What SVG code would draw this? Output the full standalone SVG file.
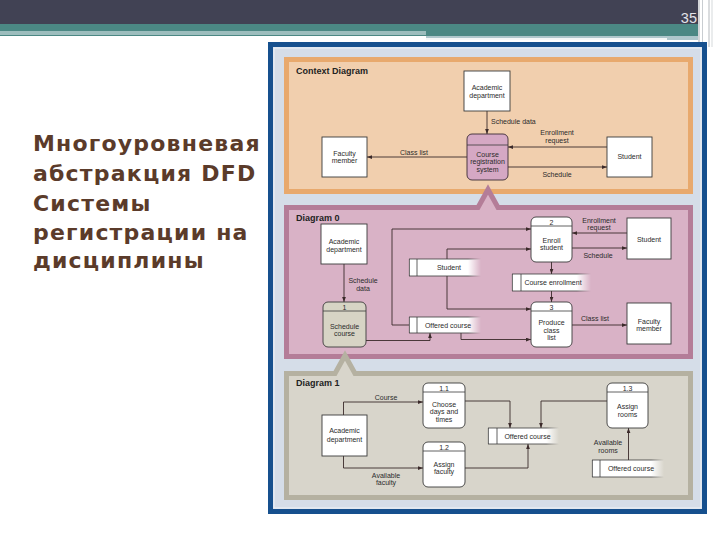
<svg xmlns="http://www.w3.org/2000/svg" width="720" height="540" viewBox="0 0 720 540">
<style>
.t{font-family:"Liberation Sans",Arial,sans-serif;font-size:7px;fill:#2b2b2b;text-anchor:middle}
.h{font-family:"Liberation Sans",Arial,sans-serif;font-size:9px;font-weight:bold;fill:#222}
.title{font-family:"DejaVu Sans",Verdana,sans-serif;font-size:22px;font-weight:bold;fill:#5b3b2a;letter-spacing:1.2px}
.box{fill:#fff;stroke:#3a3a3a;stroke-width:0.9}
.proc{fill:#fff;stroke:#3a3a3a;stroke-width:0.9}
.hl{stroke:#3a3a3a;stroke-width:0.8}
.ln{fill:none;stroke:#3b2a2a;stroke-width:0.9;marker-end:url(#ah)}
.sl{stroke:#3a3a3a;stroke-width:0.8}
</style>
<defs>
<marker id="ah" viewBox="0 0 8 6" refX="8" refY="3" markerWidth="5" markerHeight="4" markerUnits="userSpaceOnUse" orient="auto">
<path d="M0,0 L8,3 L0,6 Z" fill="#3b2a2a"/>
</marker>
<linearGradient id="ff" x1="0" y1="0" x2="1" y2="0">
<stop offset="0" stop-color="#fff" stop-opacity="1"/>
<stop offset="0.82" stop-color="#fff" stop-opacity="1"/>
<stop offset="1" stop-color="#fff" stop-opacity="0"/>
</linearGradient>
<linearGradient id="fl" x1="0" y1="0" x2="1" y2="0">
<stop offset="0" stop-color="#3a3a3a" stop-opacity="1"/>
<stop offset="0.82" stop-color="#3a3a3a" stop-opacity="1"/>
<stop offset="1" stop-color="#3a3a3a" stop-opacity="0"/>
</linearGradient>
</defs>

<rect width="720" height="540" fill="#ffffff"/>

<!-- top banner -->
<g id="banner">
<rect x="0" y="0" width="698" height="24" fill="#414254"/>
<rect x="0" y="24" width="698" height="12" fill="#4b8884"/>
<rect x="0" y="31" width="426" height="4" fill="#9cbdbd"/>
<rect x="426" y="36" width="272" height="4" fill="#aec7cc"/>
<rect x="426" y="38" width="241" height="2" fill="#f4f7f8"/>
<rect x="698.5" y="0" width="1" height="47" fill="#a9aeb3"/>
<rect x="702" y="0" width="1" height="47" fill="#c9cdd1"/>
<rect x="708.5" y="0" width="1" height="47" fill="#b5b9bd"/>
<rect x="711.5" y="0" width="1" height="47" fill="#d6d9dc"/>
<text x="697" y="23" font-family="'Liberation Sans',Arial,sans-serif" font-size="14.5" fill="#e2e3ea" text-anchor="end">35</text>
</g>

<!-- title -->
<g id="title">
<text class="title" x="33" y="151">Многоуровневая</text>
<text class="title" x="33" y="181">абстракция DFD</text>
<text class="title" x="33" y="211">Системы</text>
<text class="title" x="33" y="240">регистрации на</text>
<text class="title" x="33" y="268">дисциплины</text>
</g>

<!-- frame -->
<g id="frame">
<rect x="270.5" y="44.5" width="434" height="467" fill="#d5dde8" stroke="#16508e" stroke-width="5"/>
<rect x="274" y="48" width="427" height="460" fill="none" stroke="#eef2f7" stroke-width="1"/>
</g>

<!-- panels -->
<g id="panel-context">
<rect x="286.5" y="59.5" width="404" height="132" fill="#f1cfae" stroke="#e8a96d" stroke-width="5"/>
<text class="h" x="296" y="74">Context Diagram</text>
</g>
<g id="panel-d0">
<path d="M286.5,207.5 H478 L488,189.5 L498,207.5 H690.5 V356.5 H286.5 Z" fill="#d9b2c6" stroke="#b47d98" stroke-width="5" stroke-linejoin="miter"/>
<text class="h" x="296" y="221">Diagram 0</text>
</g>
<g id="panel-d1">
<path d="M286.5,373.5 H335 L345,355.5 L355,373.5 H690.5 V497.5 H286.5 Z" fill="#d8d5cb" stroke="#b5b1a1" stroke-width="5" stroke-linejoin="miter"/>
<text class="h" x="296" y="386">Diagram 1</text>
</g>

<!-- connectors -->
<g id="connectors">
<!-- context -->
<path class="ln" d="M487,111 V134"/>
<path class="ln" d="M467,157 H367"/>
<path class="ln" d="M607,147 H508"/>
<path class="ln" d="M508,167 H607"/>
<!-- diagram 0 -->
<path class="ln" d="M344,264 V302"/>
<path class="ln" d="M409,325 H392 V229 H531"/>
<path class="ln" d="M447,259 V249 H531"/>
<path class="ln" d="M447,276 V309 H531"/>
<path class="ln" d="M627,233 H572"/>
<path class="ln" d="M572,248 H627"/>
<path class="ln" d="M551.5,262 V274"/>
<path class="ln" d="M551.5,291 V302"/>
<path class="ln" d="M572,325 H627"/>
<path class="ln" d="M366,340.5 H430 V333"/>
<path class="ln" d="M461,333 V339.5 H531"/>
<!-- diagram 1 -->
<path class="ln" d="M343.5,415 V402 H423"/>
<path class="ln" d="M343.5,456 V468 H423"/>
<path class="ln" d="M465,401 H510 V428"/>
<path class="ln" d="M465,468 H528 V444"/>
<path class="ln" d="M607,401 H541 V428"/>
<path class="ln" d="M628.5,460 V428"/>
<!-- labels -->
<text class="t" x="491" y="123.5" style="text-anchor:start">Schedule data</text>
<text class="t" x="557" y="134.5">Enrollment</text>
<text class="t" x="557" y="142.5">request</text>
<text class="t" x="414" y="155">Class list</text>
<text class="t" x="557" y="176.5">Schedule</text>
<text class="t" x="363" y="282.5">Schedule</text>
<text class="t" x="363" y="290.5">data</text>
<text class="t" x="599" y="223">Enrollment</text>
<text class="t" x="599" y="230">request</text>
<text class="t" x="598" y="257.5">Schedule</text>
<text class="t" x="595" y="321">Class list</text>
<text class="t" x="386" y="399.5">Course</text>
<text class="t" x="386" y="477.5">Available</text>
<text class="t" x="386" y="485">faculty</text>
<text class="t" x="608" y="444.5">Available</text>
<text class="t" x="608" y="452.5">rooms</text>
</g>

<!-- Context diagram nodes -->
<g id="c-academic">
<rect class="box" x="464" y="71" width="46" height="40"/>
<text class="t" x="487" y="90">Academic</text>
<text class="t" x="487" y="97.5">department</text>
</g>
<g id="c-system">
<rect x="467" y="134" width="41" height="46" rx="5" fill="#d5a8c4" stroke="#3a2a35" stroke-width="0.9"/>
<line class="hl" x1="467" y1="145" x2="508" y2="145"/>
<text class="t" x="487.5" y="156.5">Course</text>
<text class="t" x="487.5" y="164">registration</text>
<text class="t" x="487.5" y="171.5">system</text>
</g>
<g id="c-faculty">
<rect class="box" x="322" y="137" width="45" height="40"/>
<text class="t" x="344.5" y="155.5">Faculty</text>
<text class="t" x="344.5" y="163">member</text>
</g>
<g id="c-student">
<rect class="box" x="607" y="137" width="45" height="40"/>
<text class="t" x="629.5" y="159">Student</text>
</g>

<!-- Diagram 0 nodes -->
<g id="d0-academic">
<rect class="box" x="321" y="224" width="46" height="40"/>
<text class="t" x="344" y="244">Academic</text>
<text class="t" x="344" y="251.5">department</text>
</g>
<g id="d0-p1">
<rect x="323" y="302" width="43" height="45" rx="5" fill="#d7d4c5" stroke="#3a3a3a" stroke-width="0.9"/>
<line class="hl" x1="323" y1="311" x2="366" y2="311"/>
<text class="t" x="344.5" y="309.5">1</text>
<text class="t" x="344.5" y="328.5">Schedule</text>
<text class="t" x="344.5" y="335.5">course</text>
</g>
<g id="d0-store-offered">
<rect x="409" y="317" width="72" height="16" fill="url(#ff)"/>
<rect x="409" y="316.6" width="72" height="0.8" fill="url(#fl)"/>
<rect x="409" y="332.6" width="72" height="0.8" fill="url(#fl)"/>
<line class="sl" x1="409.4" y1="317" x2="409.4" y2="333"/>
<line class="sl" x1="417" y1="317" x2="417" y2="333"/>
<text class="t" x="448" y="327.5">Offered course</text>
</g>
<g id="d0-store-student">
<rect x="409" y="259" width="72" height="17" fill="url(#ff)"/>
<rect x="409" y="258.6" width="72" height="0.8" fill="url(#fl)"/>
<rect x="409" y="275.6" width="72" height="0.8" fill="url(#fl)"/>
<line class="sl" x1="409.4" y1="259" x2="409.4" y2="276"/>
<line class="sl" x1="417" y1="259" x2="417" y2="276"/>
<text class="t" x="449" y="270">Student</text>
</g>
<g id="d0-store-enroll">
<rect x="512" y="274" width="79" height="17" fill="url(#ff)"/>
<rect x="512" y="273.6" width="79" height="0.8" fill="url(#fl)"/>
<rect x="512" y="290.6" width="79" height="0.8" fill="url(#fl)"/>
<line class="sl" x1="512.4" y1="274" x2="512.4" y2="291"/>
<line class="sl" x1="521" y1="274" x2="521" y2="291"/>
<text class="t" x="553" y="285">Course enrollment</text>
</g>
<g id="d0-p2">
<rect class="proc" x="531" y="217" width="41" height="45" rx="5"/>
<line class="hl" x1="531" y1="226" x2="572" y2="226"/>
<text class="t" x="551.5" y="224.5">2</text>
<text class="t" x="551.5" y="243">Enroll</text>
<text class="t" x="551.5" y="250">student</text>
</g>
<g id="d0-p3">
<rect class="proc" x="531" y="302" width="41" height="45" rx="5"/>
<line class="hl" x1="531" y1="311" x2="572" y2="311"/>
<text class="t" x="551.5" y="309.5">3</text>
<text class="t" x="551.5" y="325">Produce</text>
<text class="t" x="551.5" y="332.5">class</text>
<text class="t" x="551.5" y="340">list</text>
</g>
<g id="d0-student">
<rect class="box" x="627" y="218" width="44" height="41"/>
<text class="t" x="649" y="241.5">Student</text>
</g>
<g id="d0-faculty">
<rect class="box" x="627" y="303" width="44" height="41"/>
<text class="t" x="649" y="323.5">Faculty</text>
<text class="t" x="649" y="331">member</text>
</g>

<!-- Diagram 1 nodes -->
<g id="d1-academic">
<rect class="box" x="322" y="415" width="45" height="41"/>
<text class="t" x="344.5" y="432.5">Academic</text>
<text class="t" x="344.5" y="441.5">department</text>
</g>
<g id="d1-p11">
<rect class="proc" x="423" y="383" width="42" height="45" rx="5"/>
<line class="hl" x1="423" y1="392" x2="465" y2="392"/>
<text class="t" x="444" y="390.5">1.1</text>
<text class="t" x="444" y="406.5">Choose</text>
<text class="t" x="444" y="414">days and</text>
<text class="t" x="444" y="421.5">times</text>
</g>
<g id="d1-p12">
<rect class="proc" x="423" y="442" width="42" height="45" rx="5"/>
<line class="hl" x1="423" y1="451" x2="465" y2="451"/>
<text class="t" x="444" y="449.5">1.2</text>
<text class="t" x="444" y="466.5">Assign</text>
<text class="t" x="444" y="474">faculty</text>
</g>
<g id="d1-store-offered">
<rect x="488" y="428" width="71" height="16" fill="url(#ff)"/>
<rect x="488" y="427.6" width="71" height="0.8" fill="url(#fl)"/>
<rect x="488" y="443.6" width="71" height="0.8" fill="url(#fl)"/>
<line class="sl" x1="488.4" y1="428" x2="488.4" y2="444"/>
<line class="sl" x1="497" y1="428" x2="497" y2="444"/>
<text class="t" x="527.5" y="438.5">Offered course</text>
</g>
<g id="d1-p13">
<rect class="proc" x="607" y="383" width="41" height="45" rx="5"/>
<line class="hl" x1="607" y1="392" x2="648" y2="392"/>
<text class="t" x="627.5" y="390.5">1.3</text>
<text class="t" x="627.5" y="409">Assign</text>
<text class="t" x="627.5" y="416.5">rooms</text>
</g>
<g id="d1-store-offered2">
<rect x="592" y="460" width="72" height="17" fill="url(#ff)"/>
<rect x="592" y="459.6" width="72" height="0.8" fill="url(#fl)"/>
<rect x="592" y="476.6" width="72" height="0.8" fill="url(#fl)"/>
<line class="sl" x1="592.4" y1="460" x2="592.4" y2="477"/>
<line class="sl" x1="600" y1="460" x2="600" y2="477"/>
<text class="t" x="631" y="471">Offered course</text>
</g>
</svg>
